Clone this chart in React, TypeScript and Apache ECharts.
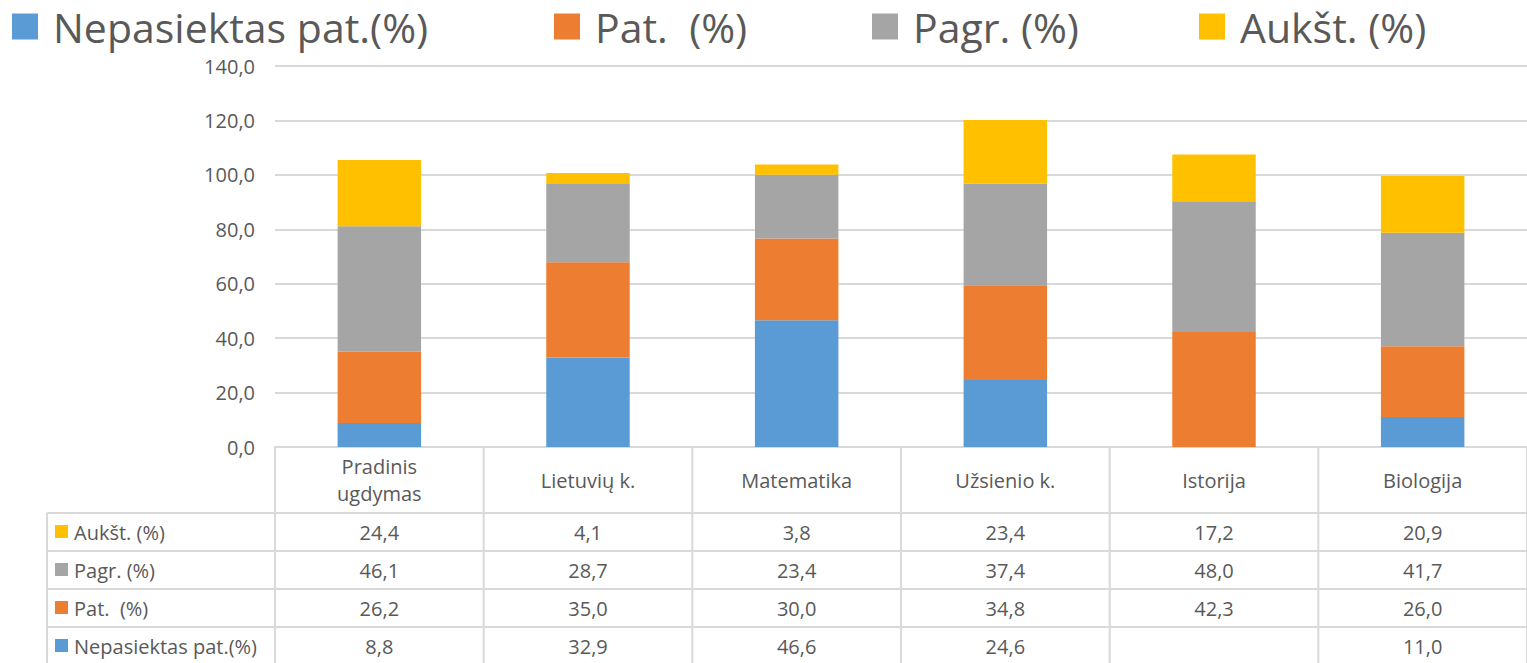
import React, { useEffect, useRef } from "react";
import * as echarts from "echarts";

const categories = ["Pradinis\nugdymas", "Lietuvių k.", "Matematika", "Užsienio k.", "Istorija", "Biologija"];
const seriesNames = ["Nepasiektas pat.(%)", "Pat.  (%)", "Pagr. (%)", "Aukšt. (%)"];
const nepasiektas = [8.8, 32.9, 46.6, 24.6, null, 11.0];
const pat = [26.2, 35.0, 30.0, 34.8, 42.3, 26.0];
const pagr = [46.1, 28.7, 23.4, 37.4, 48.0, 41.7];
const aukst = [24.4, 4.1, 3.8, 23.4, 17.2, 20.9];
const colors = ["#5B9BD5", "#ED7D31", "#A5A5A5", "#FFC000"];
const yTicks = { min: 0, max: 140, interval: 20 };

const FONT = "Open Sans";
const TEXT = "#595959";
const LINE = "#D9D9D9";
const SMALL = 20;

const W = 1527;
const H = 663;
const plotLeft = 275;
const plotRight = 1527;
const plotTop = 66;
const axisY = 447;
const tableLeft = 47;
const rowH = 38;
const headerBottom = 513;

function fmt(v: number | null) {
  return v == null ? "" : v.toFixed(1).replace(".", ",");
}

export default function App() {
  const ref = useRef<HTMLDivElement>(null);
  useEffect(() => {
    if (!ref.current) return;
    const chart = echarts.init(ref.current, null, { renderer: "svg" });
    const allSeries = [nepasiektas, pat, pagr, aukst];
    const colW = (plotRight - plotLeft) / categories.length;

    const graphics: any[] = [];
    const lineStyle = { stroke: LINE, lineWidth: 2 };
    const rowsY = [headerBottom, headerBottom + rowH, headerBottom + 2 * rowH, headerBottom + 3 * rowH];
    rowsY.forEach((y) => {
      graphics.push({ type: "line", shape: { x1: tableLeft, y1: y, x2: plotRight, y2: y }, style: lineStyle, silent: true });
    });
    graphics.push({ type: "line", shape: { x1: tableLeft, y1: headerBottom, x2: tableLeft, y2: H }, style: lineStyle, silent: true });
    for (let i = 0; i <= categories.length; i++) {
      const x = plotLeft + i * colW;
      graphics.push({ type: "line", shape: { x1: x, y1: axisY, x2: x, y2: H }, style: lineStyle, silent: true });
    }
    const order = [3, 2, 1, 0];
    order.forEach((si, r) => {
      const cy = headerBottom + r * rowH + rowH / 2;
      graphics.push({ type: "rect", shape: { x: 55, y: cy - 7, width: 13, height: 13 }, style: { fill: colors[si] }, silent: true });
      graphics.push({
        type: "text",
        x: 74,
        y: cy,
        style: { text: seriesNames[si], font: `${SMALL}px "${FONT}"`, fill: TEXT, verticalAlign: "middle", align: "left" },
        silent: true,
      });
      allSeries[si].forEach((v, ci) => {
        graphics.push({
          type: "text",
          x: plotLeft + ci * colW + colW / 2,
          y: cy,
          style: { text: fmt(v), font: `${SMALL}px "${FONT}"`, fill: TEXT, verticalAlign: "middle", align: "center" },
          silent: true,
        });
      });
    });

    const legendLefts = [12, 554, 872, 1199];
    const legends = seriesNames.map((n, i) => ({
      data: [n],
      left: legendLefts[i],
      top: 6,
      padding: 0,
      itemWidth: 26,
      itemHeight: 26,
      icon: "rect",
      selectedMode: false,
      textStyle: { fontSize: 41, lineHeight: 40, color: TEXT, fontFamily: FONT, padding: [0, 0, 0, 10] },
    }));

    chart.setOption({
      animation: false,
      color: colors,
      legend: legends,
      grid: { left: plotLeft, right: W - plotRight, top: plotTop, bottom: H - axisY, containLabel: false },
      xAxis: {
        type: "category",
        data: categories,
        axisLine: { show: true, lineStyle: { color: LINE, width: 2 } },
        axisTick: { show: false },
        axisLabel: {
          fontSize: SMALL,
          color: TEXT,
          fontFamily: FONT,
          lineHeight: 27,
          margin: 33,
          verticalAlign: "middle",
          interval: 0,
        },
      },
      yAxis: {
        type: "value",
        min: yTicks.min,
        max: yTicks.max,
        interval: yTicks.interval,
        axisLine: { show: false },
        axisTick: { show: false },
        splitLine: { lineStyle: { color: LINE, width: 2 } },
        axisLabel: {
          fontSize: 20,
          lineHeight: 22,
          color: TEXT,
          fontFamily: FONT,
          margin: 20,
          formatter: (v: number) => v.toFixed(1).replace(".", ","),
        },
      },
      series: seriesNames.map((n, i) => ({
        name: n,
        type: "bar",
        stack: "total",
        barWidth: "40%",
        data: allSeries[i],
        itemStyle: { color: colors[i] },
      })),
      graphic: graphics,
    });
    return () => chart.dispose();
  }, []);
  return <div ref={ref} style={{ position: "fixed", left: 0, top: 0, width: W, height: H, background: "#fff" }} />;
}
